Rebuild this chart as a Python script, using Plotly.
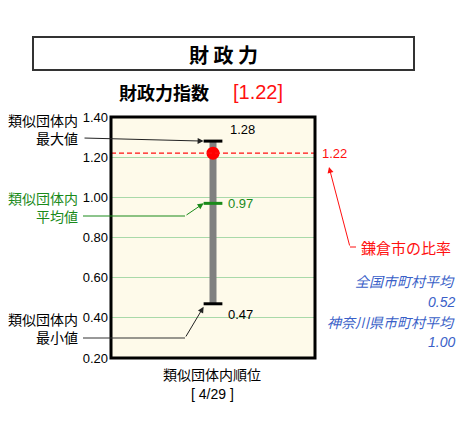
import plotly.graph_objects as go

# 財政力指数 (鎌倉市) と類似団体内の値
city_value = 1.22
group_max = 1.28
group_mean = 0.97
group_min = 0.47
rank_text = "[ 4/29 ]"
national_avg = 0.52
pref_avg = 1.00

y_ticks = [0.20, 0.40, 0.60, 0.80, 1.00, 1.20, 1.40]
y_range = [0.20, 1.40]

JP = "Noto Sans CJK JP"
NUM = "Liberation Sans, Noto Sans CJK JP"
BLUE = "#3a5fc8"
GREEN = "#1a8a1a"
RED = "#ff1010"

# page body has an 8px margin, so the figure is drawn 8px in from the corner
OFF = 8
W, H = 467 - OFF, 428 - OFF
L, R, T, B = 111 - OFF, 152, 117 - OFF, 70
PW, PH = W - L - R, H - T - B


def py(v):
    # screen pixel row -> data y
    return y_range[1] - (v - OFF - T) / PH * (y_range[1] - y_range[0])


def px_(v):
    # screen pixel column -> paper x
    return (v - OFF - L) / PW


def pyp(v):
    # screen pixel row -> paper y
    return 1 - (v - OFF - T) / PH


fig = go.Figure()

# range bar
fig.add_trace(go.Scatter(
    x=[0.5, 0.5], y=[group_min, group_max], mode="lines",
    line=dict(color="#808080", width=7), hoverinfo="skip",
))
# caps
for val, col in [(group_max, "black"), (group_mean, GREEN), (group_min, "black")]:
    fig.add_trace(go.Scatter(
        x=[0.454, 0.546], y=[val, val], mode="lines",
        line=dict(color=col, width=3), hoverinfo="skip",
    ))
# city value
fig.add_trace(go.Scatter(
    x=[0.5], y=[city_value], mode="markers",
    marker=dict(color="#ff0000", size=13), hoverinfo="skip",
))

shapes = [
    # title box
    dict(type="rect", xref="paper", yref="paper",
         x0=px_(33), x1=px_(414), y0=pyp(70), y1=pyp(37),
         line=dict(color="#333333", width=2)),
    # dashed city line
    dict(type="line", xref="paper", yref="y", x0=0, x1=1, y0=city_value, y1=city_value,
         line=dict(color=RED, width=1.3, dash="5px,3px"), layer="above"),
    # plot border
    dict(type="rect", xref="paper", yref="paper", x0=0, x1=1, y0=0, y1=1,
         line=dict(color="black", width=3)),
    # leader lines
    dict(type="line", xref="paper", yref="paper", x0=px_(83), x1=px_(185),
         y0=pyp(216), y1=pyp(216), line=dict(color=GREEN, width=1)),
    dict(type="line", xref="paper", yref="paper", x0=px_(83), x1=px_(185),
         y0=pyp(338), y1=pyp(338), line=dict(color="#333333", width=1)),
    dict(type="line", xref="paper", yref="paper", x0=px_(356), x1=px_(350),
         y0=pyp(247), y1=pyp(247), line=dict(color=RED, width=1)),
]


def label(text, x, y, size, color, family=JP, xanchor="center"):
    return dict(text=text, x=x, y=y, xref="paper", yref="paper",
                xanchor=xanchor, yanchor="middle", align=xanchor if xanchor != "center" else "center",
                showarrow=False, font=dict(family=family, size=size, color=color))


ann = [
    label("<b>財 政 力</b>", px_(223), pyp(54), 20, "black"),
    label("<b>財政力指数</b>", px_(117), pyp(92), 18, "black", xanchor="left"),
    label(f"[{city_value:.2f}]", px_(231), pyp(92), 20, RED, NUM, xanchor="left"),
    # value labels
    dict(text=f"{group_max:.2f}", x=0.575, y=group_max + 0.06, xref="x", yref="y",
         xanchor="left", yanchor="middle", showarrow=False,
         font=dict(family=NUM, size=13, color="black")),
    dict(text=f"{group_mean:.2f}", x=0.565, y=group_mean, xref="x", yref="y",
         xanchor="left", yanchor="middle", showarrow=False,
         font=dict(family=NUM, size=13, color=GREEN)),
    dict(text=f"{group_min:.2f}", x=0.565, y=group_min - 0.055, xref="x", yref="y",
         xanchor="left", yanchor="middle", showarrow=False,
         font=dict(family=NUM, size=13, color="black")),
    dict(text=f"{city_value:.2f}", x=px_(320), y=city_value, xref="paper", yref="y",
         xanchor="left", yanchor="middle", showarrow=False,
         font=dict(family=NUM, size=13, color=RED)),
    # left labels
    label("類似団体内<br>最大値", px_(80), pyp(129), 14, "black", xanchor="right"),
    label("類似団体内<br>平均値", px_(80), pyp(207), 14, GREEN, xanchor="right"),
    label("類似団体内<br>最小値", px_(80), pyp(328), 14, "black", xanchor="right"),
    # arrows
    dict(text="", x=0.454, y=group_max, xref="x", yref="y", showarrow=True,
         axref="x", ayref="y", ax=px_(83), ay=py(138),
         arrowhead=2, arrowsize=1.2, arrowwidth=1, arrowcolor="#222222"),
    dict(text="", x=0.454, y=group_mean, xref="x", yref="y", showarrow=True,
         axref="x", ayref="y", ax=px_(185), ay=py(216),
         arrowhead=2, arrowsize=1.2, arrowwidth=1, arrowcolor=GREEN),
    dict(text="", x=0.454, y=group_min - 0.015, xref="x", yref="y", showarrow=True,
         axref="x", ayref="y", ax=px_(185), ay=py(338),
         arrowhead=2, arrowsize=1.2, arrowwidth=1, arrowcolor="#222222"),
    dict(text="", x=px_(329), y=pyp(167), xref="paper", yref="paper", showarrow=True,
         ax=350 - 329, ay=247 - 167,
         arrowhead=2, arrowsize=1.2, arrowwidth=1, arrowcolor=RED),
    label("鎌倉市の比率", px_(359), pyp(247), 15, RED, xanchor="left"),
    # averages
    label("<i>全国市町村平均</i>", px_(457), pyp(281), 14, BLUE, xanchor="right"),
    label(f"<i>{national_avg:.2f}</i>", px_(457), pyp(302), 14, BLUE, NUM, xanchor="right"),
    label("<i>神奈川県市町村平均</i>", px_(457), pyp(322), 14, BLUE, xanchor="right"),
    label(f"<i>{pref_avg:.2f}</i>", px_(457), pyp(342), 14, BLUE, NUM, xanchor="right"),
    # x axis texts
    label("類似団体内順位", px_(212), pyp(374), 14, "black"),
    label(rank_text, px_(212), pyp(394), 14, "black", NUM),
]

fig.update_layout(
    width=W, height=H,
    margin=dict(l=L, r=R, t=T, b=B),
    paper_bgcolor="white", plot_bgcolor="#fefaea",
    showlegend=False,
    shapes=shapes, annotations=ann,
    xaxis=dict(range=[0, 1], showgrid=False, zeroline=False, showticklabels=False, fixedrange=True),
    yaxis=dict(range=y_range, tickvals=y_ticks, ticktext=[f"{v:.2f}" for v in y_ticks],
               showgrid=True, gridcolor="#a9d9a9", gridwidth=1, zeroline=False,
               tickfont=dict(family=NUM, size=13, color="black"), ticks="", ticklabelstandoff=2),
)

fig.write_html("out.html")
